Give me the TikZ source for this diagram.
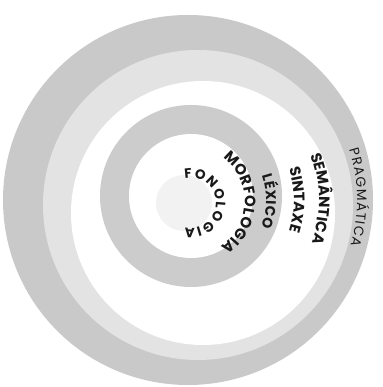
\documentclass[tikz,border=0pt]{standalone}
\usepackage{fontspec}
\setmainfont{Poppins}
\usetikzlibrary{decorations.text}
\definecolor{bandgray}{gray}{0.79}
\definecolor{lightband}{gray}{0.89}
\definecolor{ringgray}{gray}{0.8}
\definecolor{coregray}{gray}{0.95}
\definecolor{ink}{gray}{0.1}
\begin{document}
\begin{tikzpicture}[x=1pt,y=1pt,
  lbl/.style={decorate, decoration={text along path, text align=fit to path, text color=ink, text={#1}}}
]
\useasboundingbox (0,0) rectangle (382,387);
\fill[white] (0,0) rectangle (382,387);
% outer band (pragmatica / semantica)
\fill[bandgray] (188,187) circle[radius=185];
\fill[lightband] (198,182) circle[radius=155];
\fill[white] (203,174) circle[radius=132];
% inner ring
\fill[ringgray] (191,191) circle[radius=91];
\fill[white] (191,191) circle[radius=62];
\fill[coregray] (184,184) circle[radius=28];
% labels
\path[lbl={|\fontsize{13.5}{13.5}\selectfont|PRAGMÁTICA}, shift={(191,187)}]
  (17.7:166) arc[start angle=17.7, end angle=-16, radius=166];
\path[lbl={|\bfseries\fontsize{15}{15}\selectfont|SEMÂNTICA}, shift={(191,187)}]
  (20.5:128) arc[start angle=20.5, end angle=-18.7, radius=128];
\path[lbl={|\bfseries\fontsize{15}{15}\selectfont|SINTAXE}, shift={(191,187)}]
  (18:103) arc[start angle=18, end angle=-17.5, radius=103];
\path[lbl={|\bfseries\fontsize{14}{14}\selectfont|LÉXICO}, shift={(191,187)}]
  (19:75) arc[start angle=19, end angle=-21, radius=75];
\path[lbl={|\bfseries\fontsize{15}{15}\selectfont|MORFOLOGIA}, shift={(191,185)}]
  (54:54) arc[start angle=54, end angle=-56, radius=54];
\path[lbl={|\bfseries\fontsize{13.5}{13.5}\selectfont|FONOLOGIA}, shift={(191,184)}]
  (104:25) arc[start angle=104, end angle=-104, radius=25];
\end{tikzpicture}
\end{document}
